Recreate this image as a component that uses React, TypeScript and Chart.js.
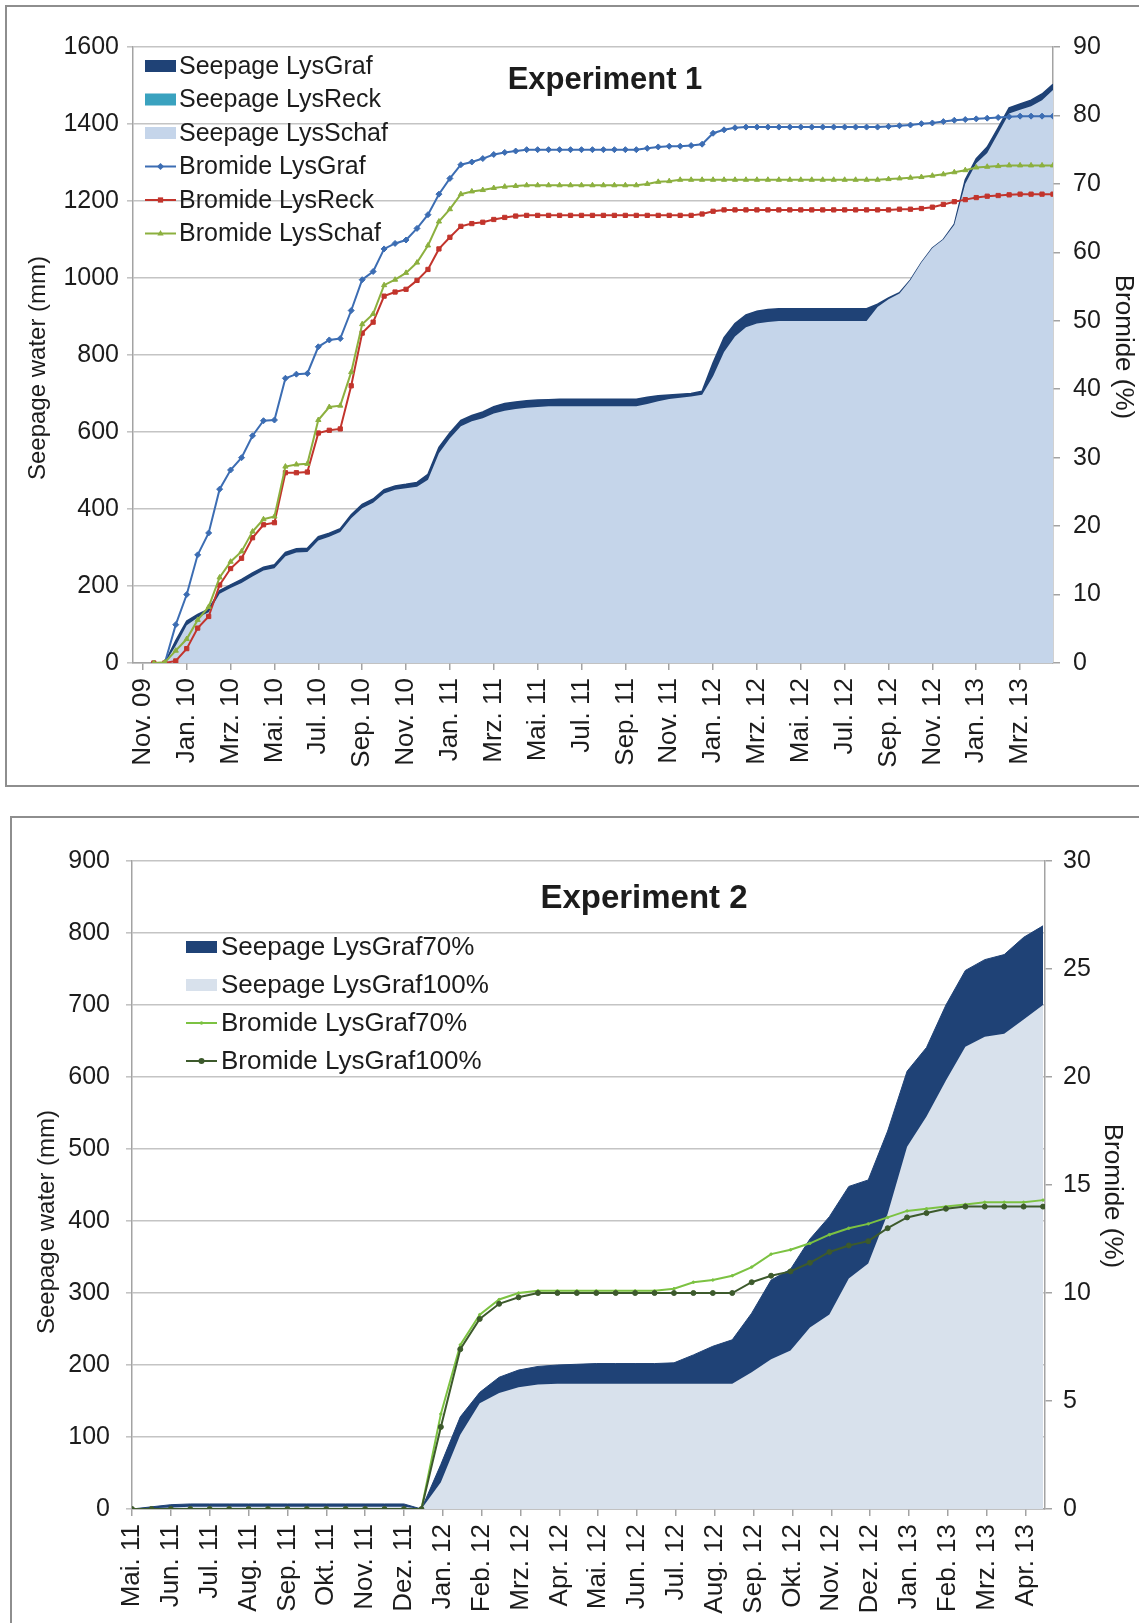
import React, { useEffect, useRef } from 'react';
import { Chart, registerables } from 'chart.js';

Chart.register(...registerables);

const FONT = "'Liberation Sans', Arial, Helvetica, sans-serif";
const TEXT = '#1c1c1c';
const AXIS = '#a3a3a3';
const GRID = '#c4c4c4';

// ---------- Experiment 1: sampling dates in months after 1 Nov 2009 ----------
const exp1Months = [
  0.5, 1, 1.5, 2, 2.5, 3, 3.5, 4, 4.5, 5,
  5.5, 6, 6.5, 7, 7.5, 8, 8.5, 9, 9.5, 10,
  10.5, 11, 11.5, 12, 12.5, 13, 13.5, 14, 14.5, 15,
  15.5, 16, 16.5, 17, 17.5, 18, 18.5, 19, 19.5, 20,
  20.5, 21, 21.5, 22, 22.5, 23, 23.5, 24, 24.5, 25,
  25.5, 26, 26.5, 27, 27.5, 28, 28.5, 29, 29.5, 30,
  30.5, 31, 31.5, 32, 32.5, 33, 33.5, 34, 34.5, 35,
  35.5, 36, 36.5, 37, 37.5, 38, 38.5, 39, 39.5, 40,
  40.5, 41, 41.5,
];
const exp1TickMonths = [0, 2, 4, 6, 8, 10, 12, 14, 16, 18, 20, 22, 24, 26, 28, 30, 32, 34, 36, 38, 40];
const exp1TickLabels = [
  'Nov. 09', 'Jan. 10', 'Mrz. 10', 'Mai. 10', 'Jul. 10', 'Sep. 10', 'Nov. 10',
  'Jan. 11', 'Mrz. 11', 'Mai. 11', 'Jul. 11', 'Sep. 11', 'Nov. 11',
  'Jan. 12', 'Mrz. 12', 'Mai. 12', 'Jul. 12', 'Sep. 12', 'Nov. 12',
  'Jan. 13', 'Mrz. 13',
];

// cumulative seepage water (mm)
const exp1SeepageGraf = [
  0, 0, 58, 109, 126, 140, 188, 203, 217, 234,
  249, 255, 287, 297, 298, 328, 337, 349, 385, 412,
  426, 450, 460, 464, 469, 490, 560, 598, 630, 643,
  652, 666, 674, 678, 681, 683, 684, 685, 685, 685,
  685, 685, 685, 685, 685, 690, 694, 696, 698, 700,
  706, 780, 845, 882, 904, 914, 918, 920, 920, 920,
  920, 920, 920, 920, 920, 920, 932, 948, 962, 995,
  1040, 1078, 1100, 1140, 1255, 1310, 1340, 1390, 1442, 1452,
  1462, 1478, 1503,
];
const exp1SeepageReck = [
  0, 0, 38, 86, 106, 119, 163, 177, 189, 205,
  219, 224, 253, 262, 263, 291, 300, 311, 344, 368,
  381, 403, 412, 416, 420, 436, 500, 536, 565, 577,
  584, 595, 601, 606, 609, 611, 613, 613, 613, 613,
  613, 613, 613, 613, 613, 618, 624, 630, 633, 636,
  640, 684, 742, 779, 801, 810, 814, 816, 816, 816,
  816, 816, 816, 816, 816, 816, 818, 859, 875, 888,
  921, 967, 999, 1022, 1085, 1178, 1213, 1255, 1310, 1321,
  1329, 1344, 1368,
];
const exp1SeepageSchaf = [
  0, 0, 45, 98, 118, 132, 180, 195, 208, 225,
  240, 246, 277, 287, 288, 318, 328, 340, 376, 402,
  416, 440, 450, 454, 458, 476, 545, 584, 615, 628,
  636, 648, 655, 660, 663, 665, 667, 667, 667, 667,
  667, 667, 667, 667, 667, 673, 680, 686, 689, 692,
  697, 745, 808, 848, 872, 882, 886, 888, 888, 888,
  888, 888, 888, 888, 888, 888, 925, 945, 960, 995,
  1040, 1078, 1100, 1138, 1245, 1298, 1325, 1376, 1427, 1437,
  1446, 1462, 1488,
];

// cumulative bromide recovery (%)
const exp1BromideGraf = [
  0, 0, 5.6, 10.0, 15.8, 19.0, 25.4, 28.2, 30.0, 33.2,
  35.4, 35.5, 41.6, 42.2, 42.3, 46.2, 47.2, 47.4, 51.5, 56.0,
  57.2, 60.5, 61.3, 61.8, 63.5, 65.5, 68.5, 70.8, 72.8, 73.2,
  73.7, 74.3, 74.6, 74.8, 75.0, 75.0, 75.0, 75.0, 75.0, 75.0,
  75.0, 75.0, 75.0, 75.0, 75.0, 75.2, 75.4, 75.5, 75.5, 75.6,
  75.8, 77.4, 77.9, 78.2, 78.3, 78.3, 78.3, 78.3, 78.3, 78.3,
  78.3, 78.3, 78.3, 78.3, 78.3, 78.3, 78.3, 78.4, 78.5, 78.6,
  78.8, 78.9, 79.1, 79.3, 79.4, 79.5, 79.6, 79.7, 79.8, 79.9,
  79.9, 79.9, 79.9,
];
const exp1BromideReck = [
  0, 0, 0.3, 2.1, 5.1, 6.8, 11.4, 13.8, 15.3, 18.3,
  20.2, 20.5, 27.8, 27.8, 27.9, 33.6, 34.0, 34.2, 40.5, 48.2,
  49.8, 53.6, 54.2, 54.6, 55.9, 57.5, 60.5, 62.2, 63.8, 64.2,
  64.4, 64.8, 65.1, 65.3, 65.4, 65.4, 65.4, 65.4, 65.4, 65.4,
  65.4, 65.4, 65.4, 65.4, 65.4, 65.4, 65.4, 65.4, 65.4, 65.4,
  65.6, 66.0, 66.2, 66.2, 66.2, 66.2, 66.2, 66.2, 66.2, 66.2,
  66.2, 66.2, 66.2, 66.2, 66.2, 66.2, 66.2, 66.2, 66.3, 66.3,
  66.4, 66.6, 67.0, 67.4, 67.7, 68.0, 68.2, 68.3, 68.4, 68.5,
  68.5, 68.5, 68.5,
];
const exp1BromideSchaf = [
  0, 0.1, 1.8, 3.5, 6.3, 8.2, 12.5, 14.8, 16.3, 19.2,
  21.0, 21.4, 28.7, 29.0, 29.1, 35.5, 37.4, 37.6, 42.5, 49.5,
  51.0, 55.2, 56.0, 57.0, 58.5, 61.0, 64.5, 66.3, 68.5, 68.9,
  69.1, 69.4, 69.6, 69.7, 69.8, 69.8, 69.8, 69.8, 69.8, 69.8,
  69.8, 69.8, 69.8, 69.8, 69.8, 70.0, 70.3, 70.4, 70.6, 70.6,
  70.6, 70.6, 70.6, 70.6, 70.6, 70.6, 70.6, 70.6, 70.6, 70.6,
  70.6, 70.6, 70.6, 70.6, 70.6, 70.6, 70.6, 70.7, 70.8, 70.9,
  71.0, 71.2, 71.4, 71.7, 72.0, 72.4, 72.5, 72.6, 72.7, 72.7,
  72.7, 72.7, 72.7,
];

// ---------- Experiment 2: sampling dates in months after 1 May 2011 ----------
const exp2Months = [
  0, 0.5, 1, 1.5, 2, 2.5, 3, 3.5, 4, 4.5, 5, 5.5, 6, 6.5, 7,
  7.45, 7.95, 8.45, 8.95, 9.45, 9.95, 10.45, 10.95, 11.45, 11.95,
  12.45, 12.95, 13.45, 13.95, 14.45, 14.95, 15.45, 15.95, 16.45, 16.95,
  17.45, 17.95, 18.45, 18.95, 19.45, 19.95, 20.45, 20.95, 21.45, 21.95,
  22.45, 22.95, 23.45,
];
const exp2TickMonths = [0, 1, 2, 3, 4, 5, 6, 7, 8, 9, 10, 11, 12, 13, 14, 15, 16, 17, 18, 19, 20, 21, 22, 23];
const exp2TickLabels = [
  'Mai. 11', 'Jun. 11', 'Jul. 11', 'Aug. 11', 'Sep. 11', 'Okt. 11', 'Nov. 11', 'Dez. 11',
  'Jan. 12', 'Feb. 12', 'Mrz. 12', 'Apr. 12', 'Mai. 12', 'Jun. 12', 'Jul. 12', 'Aug. 12',
  'Sep. 12', 'Okt. 12', 'Nov. 12', 'Dez. 12', 'Jan. 13', 'Feb. 13', 'Mrz. 13', 'Apr. 13',
];

const exp2SeepageGraf70 = [
  0, 3, 6, 7, 7, 7, 7, 7, 7, 7, 7, 7, 7, 7, 7,
  0, 62, 128, 162, 183, 193, 198, 200, 201, 202,
  202, 202, 202, 203, 214, 226, 235, 272, 318, 333,
  375, 406, 448, 457, 525, 608, 641, 700, 748, 763,
  770, 794, 810,
];
const exp2SeepageGraf100 = [
  0, 1, 2, 3, 3, 3, 3, 3, 3, 3, 3, 3, 3, 3, 3,
  0, 37, 103, 147, 161, 169, 173, 174, 174, 174,
  174, 174, 174, 174, 174, 174, 174, 190, 208, 220,
  252, 270, 320, 341, 410, 503, 545, 595, 642, 656,
  660, 680, 700,
];
const exp2BromideGraf70 = [
  0, 0, 0, 0, 0, 0, 0, 0, 0, 0, 0, 0, 0, 0, 0,
  0, 4.4, 7.6, 9.0, 9.7, 10.0, 10.1, 10.1, 10.1, 10.1,
  10.1, 10.1, 10.1, 10.2, 10.5, 10.6, 10.8, 11.2, 11.8, 12.0,
  12.3, 12.7, 13.0, 13.2, 13.5, 13.8, 13.9, 14.0, 14.1, 14.2,
  14.2, 14.2, 14.3,
];
const exp2BromideGraf100 = [
  0, 0, 0, 0, 0, 0, 0, 0, 0, 0, 0, 0, 0, 0, 0,
  0, 3.8, 7.4, 8.8, 9.5, 9.8, 10.0, 10.0, 10.0, 10.0,
  10.0, 10.0, 10.0, 10.0, 10.0, 10.0, 10.0, 10.5, 10.8, 11.0,
  11.4, 11.9, 12.2, 12.4, 13.0, 13.5, 13.7, 13.9, 14.0, 14.0,
  14.0, 14.0, 14.0,
];

// ---------- colours ----------
const NAVY = '#1f4276';
const TEAL = '#3aa2bf';
const LIGHT_BLUE = '#c5d5ea';
const PALE_BLUE = '#d8e1ec';
const BLUE = '#3c6db3';
const RED = '#c2342c';
const OLIVE = '#8cb03f';
const LIME = '#7cc242';
const DARK_GREEN = '#3d5a2c';

const toPoints = (xs: number[], ys: number[]) => xs.map((x, i) => ({ x, y: ys[i] }));

function drawMarker(ctx: CanvasRenderingContext2D, style: string, x: number, y: number, r: number, color: string) {
  ctx.fillStyle = color;
  ctx.beginPath();
  if (style === 'rectRot') {
    ctx.moveTo(x, y - r);
    ctx.lineTo(x + r, y);
    ctx.lineTo(x, y + r);
    ctx.lineTo(x - r, y);
    ctx.closePath();
  } else if (style === 'rect') {
    ctx.rect(x - r * 0.75, y - r * 0.75, r * 1.5, r * 1.5);
  } else if (style === 'triangle') {
    ctx.moveTo(x, y - r);
    ctx.lineTo(x + r * 0.9, y + r * 0.6);
    ctx.lineTo(x - r * 0.9, y + r * 0.6);
    ctx.closePath();
  } else {
    ctx.arc(x, y, r, 0, Math.PI * 2);
  }
  ctx.fill();
}

// Draws the in-plot title, both axis titles and the legend (in dataset order).
const overlayPlugin = {
  id: 'overlay',
  afterDraw(chart: any, _args: any, opts: any) {
    const ctx: CanvasRenderingContext2D = chart.ctx;
    ctx.save();
    ctx.fillStyle = TEXT;
    ctx.font = `bold ${opts.titleSize}px ${FONT}`;
    ctx.textAlign = 'center';
    ctx.textBaseline = 'middle';
    ctx.fillText(opts.title, opts.titleX, opts.titleY);

    opts.axisTitles.forEach((t: any) => {
      ctx.save();
      ctx.translate(t.x, t.y);
      ctx.rotate((t.angle * Math.PI) / 180);
      ctx.font = `${t.size}px ${FONT}`;
      ctx.fillStyle = TEXT;
      ctx.textAlign = 'center';
      ctx.textBaseline = 'middle';
      ctx.fillText(t.text, 0, 0);
      ctx.restore();
    });

    const lg = opts.legend;
    ctx.font = `${lg.size}px ${FONT}`;
    ctx.textAlign = 'left';
    ctx.textBaseline = 'middle';
    chart.data.datasets.forEach((ds: any, i: number) => {
      const cy = lg.y + i * lg.dy;
      if (ds.fill) {
        ctx.fillStyle = ds.backgroundColor;
        ctx.fillRect(lg.x, cy - 6, lg.swatchW, 12);
      } else {
        ctx.strokeStyle = ds.borderColor;
        ctx.lineWidth = 2;
        ctx.beginPath();
        ctx.moveTo(lg.x, cy);
        ctx.lineTo(lg.x + lg.swatchW, cy);
        ctx.stroke();
        if (ds.pointRadius > 0) {
          drawMarker(ctx, ds.pointStyle, lg.x + lg.swatchW / 2, cy, ds.pointRadius + 0.5, ds.borderColor);
        }
      }
      ctx.fillStyle = TEXT;
      ctx.fillText(ds.label, lg.textX, cy + 1);
    });
    ctx.restore();
  },
};

function areaSet(label: string, xs: number[], ys: number[], color: string, order: number, edge = 0) {
  return {
    label,
    data: toPoints(xs, ys),
    yAxisID: 'y',
    fill: 'origin',
    backgroundColor: color,
    borderColor: color,
    borderWidth: edge,
    pointRadius: 0,
    tension: 0,
    order,
  };
}

function lineSet(label: string, xs: number[], ys: number[], color: string, style: string, radius: number, order: number) {
  return {
    label,
    data: toPoints(xs, ys),
    yAxisID: 'y1',
    fill: false,
    borderColor: color,
    backgroundColor: color,
    borderWidth: 2,
    pointStyle: style,
    pointRadius: radius,
    pointBorderWidth: 1,
    tension: 0,
    order,
  };
}

type Frame = {
  width: number;
  height: number;
  plotLeft: number;
  plotRight: number;
  plotTop: number;
  plotBottom: number;
  xMin: number;
  xMax: number;
  tickMonths: number[];
  tickLabels: string[];
  yMax: number;
  yStep: number;
  y1Max: number;
  y1Step: number;
  yLabelPad: number;
  y1LabelPad: number;
  xLabelPad: number;
};

function buildOptions(f: Frame, overlay: any) {
  const yFont = { family: FONT, size: 25 };
  const xFont = { family: FONT, size: 26 };
  return {
    animation: false,
    responsive: false,
    events: [],
    layout: { padding: { top: f.plotTop, left: 0, right: 0, bottom: 0 } },
    plugins: {
      legend: { display: false },
      tooltip: { enabled: false },
      overlay,
    },
    scales: {
      x: {
        type: 'linear',
        min: f.xMin,
        max: f.xMax,
        afterBuildTicks: (axis: any) => {
          axis.ticks = f.tickMonths.map((v) => ({ value: v }));
        },
        afterFit: (axis: any) => {
          axis.height = f.height - f.plotBottom;
        },
        ticks: {
          autoSkip: false,
          minRotation: 90,
          maxRotation: 90,
          padding: f.xLabelPad,
          color: TEXT,
          font: xFont,
          callback: (v: any) => {
            const i = f.tickMonths.indexOf(Number(v));
            return i >= 0 ? f.tickLabels[i] : '';
          },
        },
        grid: { display: true, drawOnChartArea: false, tickLength: 7, color: AXIS, lineWidth: 1.5 },
        border: { display: true, color: AXIS, width: 1.5 },
      },
      y: {
        type: 'linear',
        position: 'left',
        min: 0,
        max: f.yMax,
        afterFit: (axis: any) => {
          axis.width = f.plotLeft;
        },
        ticks: {
          stepSize: f.yStep,
          padding: f.yLabelPad,
          color: TEXT,
          font: yFont,
          callback: (v: any) => String(v),
        },
        grid: { color: GRID, lineWidth: 1.6, tickLength: 6 },
        border: { display: true, color: AXIS, width: 1.5 },
      },
      y1: {
        type: 'linear',
        position: 'right',
        min: 0,
        max: f.y1Max,
        afterFit: (axis: any) => {
          axis.width = f.width - f.plotRight;
        },
        ticks: {
          stepSize: f.y1Step,
          padding: f.y1LabelPad,
          color: TEXT,
          font: yFont,
          callback: (v: any) => String(v),
        },
        grid: { drawOnChartArea: false, color: AXIS, lineWidth: 1.5, tickLength: 7 },
        border: { display: true, color: AXIS, width: 1.5 },
      },
    },
  };
}

const frame1: Frame = {
  width: 1139,
  height: 786,
  plotLeft: 133,
  plotRight: 1053,
  plotTop: 47,
  plotBottom: 663,
  xMin: -0.45,
  xMax: 41.5,
  tickMonths: exp1TickMonths,
  tickLabels: exp1TickLabels,
  yMax: 1600,
  yStep: 200,
  y1Max: 90,
  y1Step: 10,
  yLabelPad: 8,
  y1LabelPad: 13,
  xLabelPad: 8,
};

const frame2: Frame = {
  width: 1139,
  height: 833,
  plotLeft: 132,
  plotRight: 1045,
  plotTop: 71,
  plotBottom: 719,
  xMin: 0,
  xMax: 23.5,
  tickMonths: exp2TickMonths,
  tickLabels: exp2TickLabels,
  yMax: 900,
  yStep: 100,
  y1Max: 30,
  y1Step: 5,
  yLabelPad: 16,
  y1LabelPad: 11,
  xLabelPad: 8,
};

function buildExperiment1(): any {
  return {
    type: 'line',
    data: {
      datasets: [
        areaSet('Seepage LysGraf', exp1Months, exp1SeepageGraf, NAVY, 10, 1.5),
        areaSet('Seepage LysReck', exp1Months, exp1SeepageReck, TEAL, 9),
        areaSet('Seepage LysSchaf', exp1Months, exp1SeepageSchaf, LIGHT_BLUE, 8),
        lineSet('Bromide LysGraf', exp1Months, exp1BromideGraf, BLUE, 'rectRot', 3, 3),
        lineSet('Bromide LysReck', exp1Months, exp1BromideReck, RED, 'rect', 3, 2),
        lineSet('Bromide LysSchaf', exp1Months, exp1BromideSchaf, OLIVE, 'triangle', 3, 1),
      ],
    },
    options: buildOptions(frame1, {
      title: 'Experiment 1',
      titleX: 605,
      titleY: 80,
      titleSize: 31,
      axisTitles: [
        { text: 'Seepage water (mm)', x: 38, y: 368, angle: -90, size: 24 },
        { text: 'Bromide (%)', x: 1123, y: 347, angle: 90, size: 26 },
      ],
      legend: { x: 145, y: 66, dy: 33.5, swatchW: 31, textX: 179, size: 25 },
    }),
    plugins: [overlayPlugin],
  };
}

function buildExperiment2(): any {
  return {
    type: 'line',
    data: {
      datasets: [
        areaSet('Seepage LysGraf70%', exp2Months, exp2SeepageGraf70, NAVY, 10, 1),
        areaSet('Seepage LysGraf100%', exp2Months, exp2SeepageGraf100, PALE_BLUE, 9),
        lineSet('Bromide LysGraf70%', exp2Months, exp2BromideGraf70, LIME, 'circle', 1.2, 2),
        lineSet('Bromide LysGraf100%', exp2Months, exp2BromideGraf100, DARK_GREEN, 'circle', 2.5, 1),
      ],
    },
    options: buildOptions(frame2, {
      title: 'Experiment 2',
      titleX: 644,
      titleY: 109,
      titleSize: 33,
      axisTitles: [
        { text: 'Seepage water (mm)', x: 47, y: 432, angle: -90, size: 24 },
        { text: 'Bromide (%)', x: 1112, y: 406, angle: 90, size: 26 },
      ],
      legend: { x: 186, y: 157, dy: 38, swatchW: 31, textX: 221, size: 26 },
    }),
    plugins: [overlayPlugin],
  };
}

function ChartCanvas({ build, left, top, width, height }: { build: () => any; left: number; top: number; width: number; height: number }) {
  const ref = useRef<HTMLCanvasElement>(null);
  useEffect(() => {
    if (!ref.current) return;
    const chart = new Chart(ref.current, build());
    return () => chart.destroy();
  }, [build]);
  return (
    <canvas
      ref={ref}
      width={width}
      height={height}
      style={{ position: 'absolute', left, top, width, height, display: 'block' }}
    />
  );
}

export default function App() {
  return (
    <div
      style={{
        position: 'absolute',
        left: 0,
        top: 0,
        width: 1139,
        height: 1623,
        overflow: 'hidden',
        background: '#ffffff',
      }}
    >
      <div style={{ position: 'absolute', left: 5, top: 5, width: 1150, height: 778, border: '2px solid #8e8e8e' }} />
      <div style={{ position: 'absolute', left: 10, top: 816, width: 1150, height: 900, border: '2px solid #8e8e8e' }} />
      <ChartCanvas build={buildExperiment1} left={0} top={0} width={1139} height={786} />
      <ChartCanvas build={buildExperiment2} left={0} top={790} width={1139} height={833} />
    </div>
  );
}
